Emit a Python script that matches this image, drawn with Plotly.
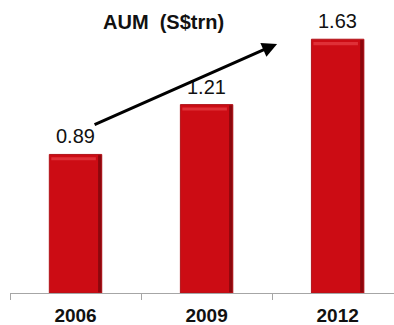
import plotly.graph_objects as go

# Assets under management, S$ trillion
years = ["2006", "2009", "2012"]
aum = [0.89, 1.21, 1.63]
value_labels = ["0.89", "1.21", "1.63"]
chart_title = "AUM  (S$trn)"

BAR_RED = "#CC0C14"
FONT = "Liberation Sans, Arial, sans-serif"

fig = go.Figure()
# main bars
fig.add_trace(go.Bar(
    x=years, y=aum,
    marker=dict(color=BAR_RED, line=dict(color="#B0141A", width=1)),
    width=0.4, offset=-0.2,
    hoverinfo="skip",
))
# bevel: shaded right edge of each bar
fig.add_trace(go.Bar(
    x=years, y=[v - 0.01 for v in aum], base=0.005,
    marker=dict(color="#7E070C", line=dict(width=0)),
    width=0.025, offset=0.172,
    opacity=0.8, hoverinfo="skip",
))
# bevel: light strip just under the top of each bar
fig.add_trace(go.Bar(
    x=years, y=[0.02] * len(aum), base=[v - 0.038 for v in aum],
    marker=dict(color="#E43A40", line=dict(width=0)),
    width=0.34, offset=-0.185,
    opacity=0.8, hoverinfo="skip",
))

# value labels above each bar (category positions by index)
for i, (v, lab) in enumerate(zip(aum, value_labels)):
    fig.add_annotation(
        x=i, y=v, text=lab, showarrow=False,
        xref="x", yref="y", yanchor="bottom", yshift=5,
        font=dict(family=FONT, size=20, color="#111111"),
    )

# chart heading
fig.add_annotation(
    x=0.40, y=0.924, xref="paper", yref="paper",
    text="<b>" + chart_title + "</b>", showarrow=False,
    xanchor="center", yanchor="middle",
    font=dict(family=FONT, size=20, color="#111111"),
)

# growth arrow
fig.add_annotation(
    x=1.538, y=1.600, ax=0.134, ay=1.077,
    xref="x", yref="y", axref="x", ayref="y",
    text="", showarrow=True,
    arrowhead=2, arrowsize=1.0, arrowwidth=3, arrowcolor="#000000",
)

fig.update_layout(
    width=394, height=325,
    margin=dict(l=10, r=0, t=0, b=32),
    paper_bgcolor="white", plot_bgcolor="white",
    showlegend=False,
    barmode="overlay",
    xaxis=dict(
        type="category",
        range=[-0.5, 2.43],
        showline=True, linecolor="#A6A6A6", linewidth=1,
        ticks="outside", tickson="boundaries", ticklen=6,
        tickcolor="#A6A6A6", tickwidth=1,
        showgrid=False, zeroline=False,
        ticklabelstandoff=5,
        tickfont=dict(family=FONT, size=19, color="#111111"),
        tickprefix="<b>", ticksuffix="</b>",
    ),
    yaxis=dict(
        range=[0, 1.882], visible=False, showgrid=False, zeroline=False,
    ),
)

fig.write_html("out.html")
